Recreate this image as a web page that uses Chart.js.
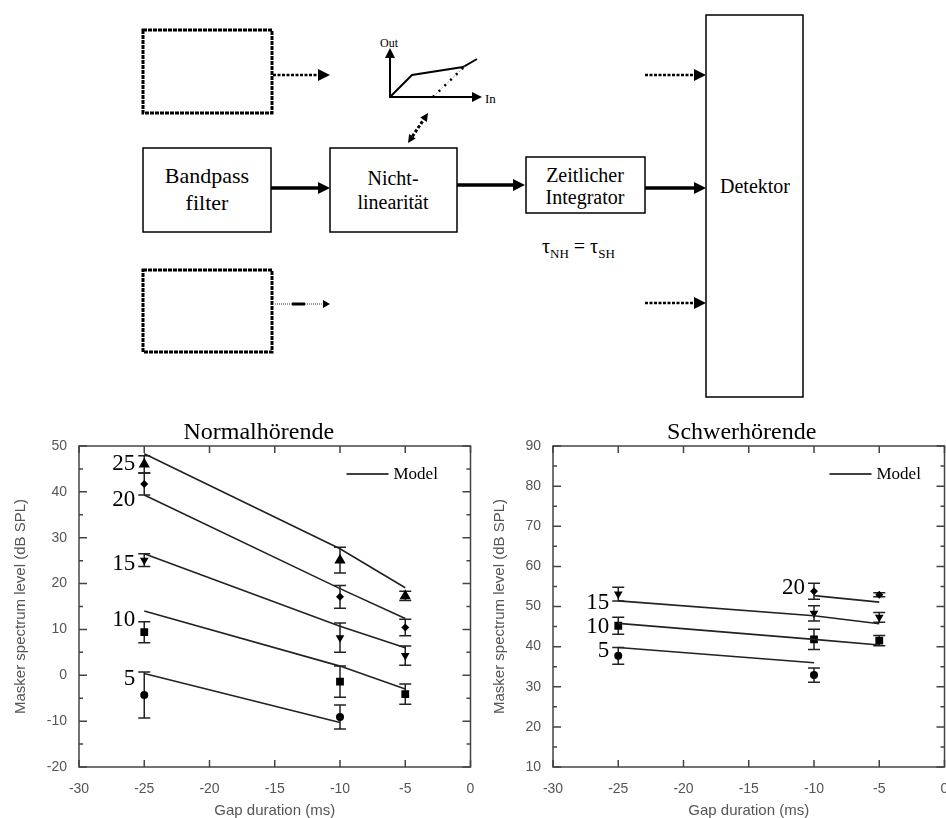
<!DOCTYPE html>
<html lang="de">
<head>
<meta charset="UTF-8">
<title>Modell und Lückenschwellen</title>
<style>
    body {
        margin: 0;
        background: #ffffff;
        width: 946px;
        height: 818px;
        position: relative;
        overflow: hidden;
    }
    #diagram {
        position: absolute;
        left: 0;
        top: 0;
    }
    .panel {
        position: absolute;
        top: 405px;
        width: 477px;
        height: 413px;
    }
    #normalPanel { left: 0; }
    #schwerPanel { left: 473px; }
</style>
<script src="https://cdn.jsdelivr.net/npm/chart.js"></script>
</head>
<body>

<svg id="diagram" width="946" height="400" font-family="'Liberation Serif', 'Times New Roman', serif">
    <!-- dotted placeholder channels -->
    <rect x="143" y="30" width="129" height="83" fill="none" stroke="#000" stroke-width="3" stroke-dasharray="4 1"/>
    <rect x="143" y="270" width="129" height="82" fill="none" stroke="#000" stroke-width="3" stroke-dasharray="4 1"/>
    <line x1="273" y1="75" x2="319" y2="75" stroke="#000" stroke-width="2.5" stroke-dasharray="3 1.5"/>
    <polygon points="318,69 330,75 318,81" fill="#000"/>
    <line x1="273" y1="304" x2="324" y2="304" stroke="#999" stroke-width="2" stroke-dasharray="1 1"/>
    <line x1="292" y1="304" x2="305" y2="304" stroke="#000" stroke-width="3"/>
    <polygon points="323,300 330,304 323,308" fill="#000"/>

    <!-- input/output characteristic -->
    <line x1="390" y1="98" x2="390" y2="57" stroke="#000" stroke-width="2"/>
    <polygon points="385,58 390,48 395,58" fill="#000"/>
    <line x1="389" y1="97" x2="473" y2="97" stroke="#000" stroke-width="2"/>
    <polygon points="472,92 482,97 472,102" fill="#000"/>
    <polyline points="390,97 412,75 463,67 477,59" fill="none" stroke="#000" stroke-width="2"/>
    <line x1="433" y1="97" x2="465" y2="66" stroke="#999" stroke-width="1" stroke-dasharray="2 2"/>
    <line x1="433" y1="97" x2="465" y2="66" stroke="#000" stroke-width="2.5" stroke-dasharray="2 6"/>
    <text x="380" y="47" font-size="12">Out</text>
    <text x="485" y="103" font-size="13">In</text>
    <line x1="412.4" y1="136.3" x2="423.6" y2="119.7" stroke="#000" stroke-width="3" stroke-dasharray="3 2"/>
    <polygon points="408,143 415.7,138.5 409.1,134.1" fill="#000"/>
    <polygon points="428,113 426.9,121.9 420.3,117.5" fill="#000"/>

    <!-- main chain -->
    <rect x="143" y="148" width="128" height="84" fill="none" stroke="#000" stroke-width="1.5"/>
    <text x="207" y="183" font-size="22" text-anchor="middle">Bandpass</text>
    <text x="207" y="210" font-size="22" text-anchor="middle">filter</text>
    <line x1="271" y1="188" x2="319" y2="188" stroke="#000" stroke-width="3.5"/>
    <polygon points="318,182 330,188 318,194" fill="#000"/>

    <rect x="330" y="148" width="127" height="84" fill="none" stroke="#000" stroke-width="1.5"/>
    <text x="393" y="185" font-size="20" text-anchor="middle">Nicht-</text>
    <text x="393" y="209" font-size="20" text-anchor="middle">linearität</text>
    <line x1="457" y1="185" x2="514" y2="185" stroke="#000" stroke-width="3.5"/>
    <polygon points="513,179 525,185 513,191" fill="#000"/>

    <rect x="526" y="157" width="119" height="56" fill="none" stroke="#000" stroke-width="1.5"/>
    <text x="585" y="182" font-size="20" text-anchor="middle">Zeitlicher</text>
    <text x="585" y="204" font-size="20" text-anchor="middle">Integrator</text>
    <line x1="645" y1="188" x2="695" y2="188" stroke="#000" stroke-width="3.5"/>
    <polygon points="694,182 706,188 694,194" fill="#000"/>

    <text x="542" y="253" font-size="20">τ<tspan font-size="13" dy="5">NH</tspan><tspan dy="-5"> = τ</tspan><tspan font-size="13" dy="5">SH</tspan></text>

    <rect x="706" y="15" width="97" height="382" fill="none" stroke="#000" stroke-width="1.5"/>
    <text x="755" y="193" font-size="20" text-anchor="middle">Detektor</text>
    <line x1="645" y1="75" x2="695" y2="75" stroke="#000" stroke-width="2.5" stroke-dasharray="3 1.5"/>
    <polygon points="694,69 706,75 694,81" fill="#000"/>
    <line x1="645" y1="303" x2="695" y2="303" stroke="#000" stroke-width="2.5" stroke-dasharray="3 1.5"/>
    <polygon points="694,297 706,303 694,309" fill="#000"/>
</svg>

<div class="panel" id="normalPanel"><canvas id="normalChart"></canvas></div>
<div class="panel" id="schwerPanel"><canvas id="schwerChart"></canvas></div>

<script>
    // gap durations (ms, plotted negative)
    const gapsAll = [-25, -10, -5];
    const gapsShort = [-25, -10];
    const gapsLate = [-10, -5];

    // Normalhörende: measured means, error (+/-), model prediction per level
    const nhMean5 = [-4.3, -9.1];
    const nhErr5 = [5.0, 2.6];
    const nhModel5 = [0.4, -10.3];
    const nhMean10 = [9.4, -1.4, -4.1];
    const nhErr10 = [2.3, 3.4, 2.2];
    const nhModel10 = [14.0, 2.0, -3.0];
    const nhMean15 = [25.1, 8.2, 4.3];
    const nhErr15 = [1.4, 3.2, 2.1];
    const nhModel15 = [26.5, 10.7, 6.0];
    const nhMean20 = [41.7, 17.1, 10.4];
    const nhErr20 = [2.4, 2.5, 1.8];
    const nhModel20 = [39.3, 18.9, 12.4];
    const nhMean25 = [46.0, 25.1, 17.3];
    const nhErr25 = [1.9, 2.8, 1.0];
    const nhModel25 = [48.3, 27.6, 19.1];

    // Schwerhörende
    const shMean5 = [37.7, 32.9];
    const shErr5 = [2.1, 1.8];
    const shModel5 = [39.8, 36.0];
    const shMean10 = [45.2, 41.8, 41.5];
    const shErr10 = [2.1, 2.5, 1.3];
    const shModel10 = [45.8, 41.8, 40.4];
    const shMean15 = [53.1, 48.3, 47.3];
    const shErr15 = [1.7, 1.9, 1.2];
    const shModel15 = [51.4, 47.7, 45.7];
    const shMean20 = [53.8, 52.9];
    const shErr20 = [2.0, 0.5];
    const shModel20 = [52.7, 51.1];

    // level labels (text, anchor gap, anchor level)
    const levelNames = ['5', '10', '15', '20', '25'];
    const nhLabelGap = [-25, -25, -25, -25, -25];
    const nhLabelLevel = [-0.7, 12.0, 24.3, 38.3, 46.1];
    const shLabelGap = [-25, -25, -25, -10];
    const shLabelLevel = [38.8, 44.8, 51.0, 54.5];

    const serif = '"Liberation Serif", "Times New Roman", serif';
    const sans = '"Liberation Sans", Arial, sans-serif';

    function points(gaps, values) {
        return gaps.map((g, i) => ({ x: g, y: values[i] }));
    }

    function measured(gaps, mean, err, style, radius, rotation) {
        return {
            data: points(gaps, mean),
            errorBars: err,
            showLine: false,
            pointStyle: style,
            pointRadius: radius,
            pointRotation: rotation || 0,
            pointBackgroundColor: '#000',
            pointBorderColor: '#000',
            pointBorderWidth: 0
        };
    }

    function model(gaps, values) {
        return {
            data: points(gaps, values),
            showLine: true,
            borderColor: '#222',
            borderWidth: 1.6,
            pointRadius: 0
        };
    }

    function figurePlugin(cfg) {
        return {
            id: 'gapFigure',
            beforeDatasetsDraw(chart) {
                const { ctx, scales: { x, y } } = chart;
                ctx.save();
                ctx.strokeStyle = '#222';
                ctx.lineWidth = 1.5;
                chart.data.datasets.forEach(ds => {
                    if (!ds.errorBars) return;
                    ds.data.forEach((pt, i) => {
                        const px = x.getPixelForValue(pt.x);
                        const top = y.getPixelForValue(pt.y + ds.errorBars[i]);
                        const bot = y.getPixelForValue(pt.y - ds.errorBars[i]);
                        ctx.beginPath();
                        ctx.moveTo(px, top); ctx.lineTo(px, bot);
                        ctx.moveTo(px - 6, top); ctx.lineTo(px + 6, top);
                        ctx.moveTo(px - 6, bot); ctx.lineTo(px + 6, bot);
                        ctx.stroke();
                    });
                });
                ctx.restore();
            },
            afterDraw(chart) {
                const { ctx, chartArea: a, scales: { x, y } } = chart;
                ctx.save();

                // frame with inward ticks
                ctx.strokeStyle = '#444';
                ctx.lineWidth = 1.5;
                ctx.strokeRect(a.left, a.top, a.width, a.height);
                ctx.beginPath();
                for (let v = x.min; v <= x.max; v += 5) {
                    const px = x.getPixelForValue(v);
                    ctx.moveTo(px, a.bottom); ctx.lineTo(px, a.bottom - 7);
                    ctx.moveTo(px, a.top); ctx.lineTo(px, a.top + 7);
                }
                for (let v = y.min; v <= y.max; v += 5) {
                    const py = y.getPixelForValue(v);
                    const len = v % 10 === 0 ? 8 : 4;
                    ctx.moveTo(a.left, py); ctx.lineTo(a.left + len, py);
                    ctx.moveTo(a.right, py); ctx.lineTo(a.right - len, py);
                }
                ctx.stroke();

                // panel title
                ctx.fillStyle = '#000';
                ctx.textAlign = 'center';
                ctx.textBaseline = 'middle';
                ctx.font = '24px ' + serif;
                ctx.fillText(cfg.title, (a.left + a.right) / 2 + cfg.titleShift, a.top - 13);

                // legend
                const ly = a.top + 28;
                ctx.strokeStyle = '#000';
                ctx.lineWidth = 1.6;
                ctx.beginPath();
                ctx.moveTo(a.right - cfg.legendLine, ly);
                ctx.lineTo(a.right - cfg.legendLine + 42, ly);
                ctx.stroke();
                ctx.textAlign = 'left';
                ctx.font = '17px ' + serif;
                ctx.fillText('Model', a.right - cfg.legendLine + 47, ly + 1);

                // level labels
                ctx.textAlign = 'right';
                ctx.font = '23px ' + serif;
                cfg.labelLevel.forEach((lv, i) => {
                    ctx.fillText(levelNames[i], x.getPixelForValue(cfg.labelGap[i]) - 9, y.getPixelForValue(lv));
                });
                ctx.restore();
            }
        };
    }

    function makeChart(id, datasets, cfg) {
        return new Chart(document.getElementById(id), {
            type: 'scatter',
            data: { datasets: datasets },
            options: {
                responsive: true,
                maintainAspectRatio: false,
                animation: false,
                layout: { padding: { top: 41, right: 0, left: 0, bottom: 0 } },
                plugins: {
                    legend: { display: false },
                    tooltip: { enabled: false }
                },
                scales: {
                    x: {
                        type: 'linear',
                        min: -30,
                        max: 0,
                        grid: { display: false, drawTicks: false },
                        border: { display: false },
                        ticks: { stepSize: 5, color: '#555', font: { family: sans, size: 14 }, padding: 14 },
                        title: {
                            display: true,
                            text: 'Gap duration (ms)',
                            color: '#555',
                            font: { family: sans, size: 15, lineHeight: 1 },
                            padding: 0
                        },
                        afterFit(s) { s.height = 51; s.paddingLeft = 0; s.paddingRight = 0; }
                    },
                    y: {
                        type: 'linear',
                        min: cfg.yMin,
                        max: cfg.yMax,
                        grid: { display: false, drawTicks: false },
                        border: { display: false },
                        ticks: { stepSize: 10, color: '#555', font: { family: sans, size: 14 }, padding: 12 },
                        title: {
                            display: true,
                            text: 'Masker spectrum level (dB SPL)',
                            color: '#555',
                            font: { family: sans, size: 15, lineHeight: 1 },
                            padding: { top: cfg.yTitlePad, bottom: 0 }
                        },
                        afterFit(s) { s.width = cfg.yWidth; s.paddingTop = 0; s.paddingBottom = 0; }
                    }
                }
            },
            plugins: [figurePlugin(cfg)]
        });
    }

    makeChart('normalChart', [
        model(gapsShort, nhModel5),
        model(gapsAll, nhModel10),
        model(gapsAll, nhModel15),
        model(gapsAll, nhModel20),
        model(gapsAll, nhModel25),
        measured(gapsShort, nhMean5, nhErr5, 'circle', 4),
        measured(gapsAll, nhMean10, nhErr10, 'rect', 5.5),
        measured(gapsAll, nhMean15, nhErr15, 'triangle', 5, 180),
        measured(gapsAll, nhMean20, nhErr20, 'rectRot', 4),
        measured(gapsAll, nhMean25, nhErr25, 'triangle', 6.5)
    ], {
        title: 'Normalhörende', titleShift: -16, yMin: -20, yMax: 50, yWidth: 79, yTitlePad: 13,
        legendLine: 124, labelGap: nhLabelGap, labelLevel: nhLabelLevel
    });

    makeChart('schwerChart', [
        model(gapsShort, shModel5),
        model(gapsAll, shModel10),
        model(gapsAll, shModel15),
        model(gapsLate, shModel20),
        measured(gapsShort, shMean5, shErr5, 'circle', 4),
        measured(gapsAll, shMean10, shErr10, 'rect', 5.5),
        measured(gapsAll, shMean15, shErr15, 'triangle', 5, 180),
        measured(gapsLate, shMean20, shErr20, 'rectRot', 4)
    ], {
        title: 'Schwerhörende', titleShift: -7, yMin: 10, yMax: 90, yWidth: 80, yTitlePad: 19,
        legendLine: 115, labelGap: shLabelGap, labelLevel: shLabelLevel
    });
</script>
</body>
</html>
